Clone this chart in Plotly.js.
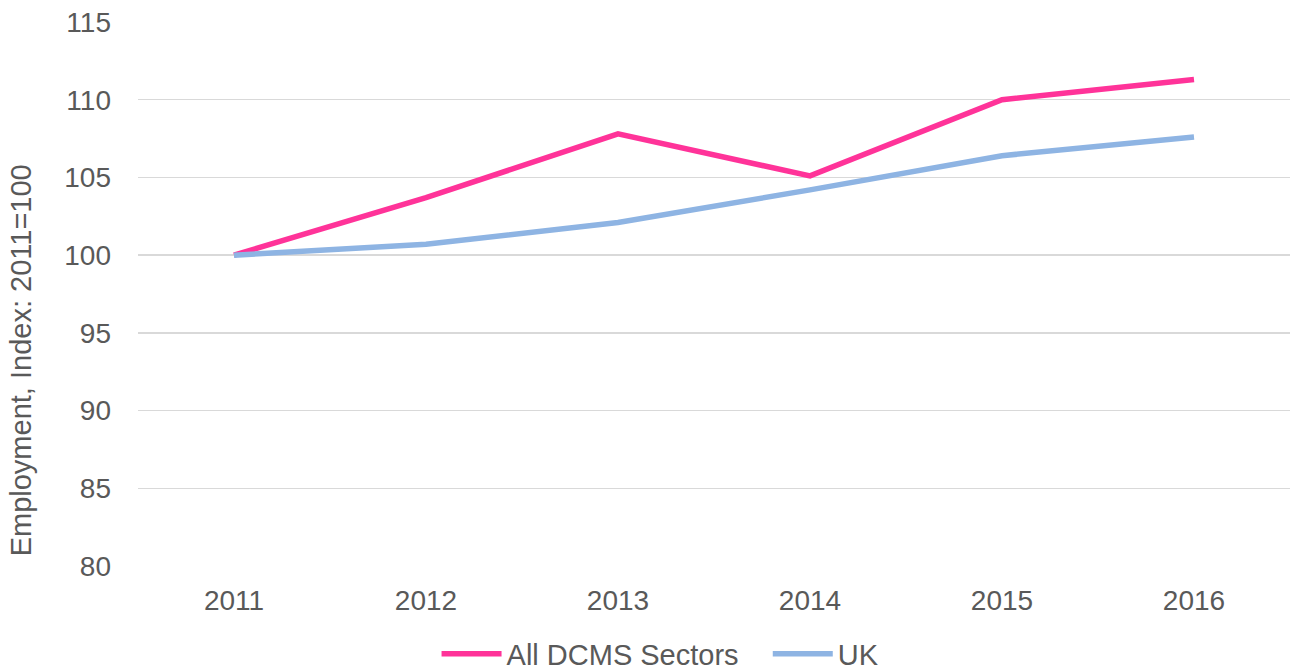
<!DOCTYPE html>
<html><head><meta charset="utf-8">
<script src="https://cdn.plot.ly/plotly-3.0.1.min.js"></script>
<style>html,body{margin:0;padding:0;background:#fff}#chart{width:1290px;height:671px}</style>
</head><body><div id="chart"></div>
<script>
var years = ["2011","2012","2013","2014","2015","2016"];
var dcms = [100, 103.7, 107.8, 105.1, 110.0, 111.3];
var uk = [100, 100.7, 102.1, 104.2, 106.4, 107.6];
var yTicks = [80, 85, 90, 95, 100, 105, 110, 115];
var seriesNames = ["All DCMS Sectors", "UK"];

var tickFont = {family: "Liberation Sans, Arial, sans-serif", size: 28, color: "#595959"};
var bigFont = {family: "Liberation Sans, Arial, sans-serif", size: 29, color: "#595959"};
var traces = [
  {x: years, y: dcms, type: "scatter", mode: "lines", name: seriesNames[0] + "\u00A0\u00A0\u00A0",
   line: {color: "#FF3399", width: 5.5}},
  {x: years, y: uk, type: "scatter", mode: "lines", name: seriesNames[1],
   line: {color: "#8EB4E3", width: 5.5}}
];
var layout = {
  width: 1290, height: 671,
  margin: {l: 138, r: 0, t: 22, b: 105, autoexpand: false},
  paper_bgcolor: "#fff", plot_bgcolor: "#fff",
  font: tickFont,
  showlegend: true,
  legend: {orientation: "h", x: 0.4536, xanchor: "center", y: -0.1145, yanchor: "top",
           font: bigFont, itemwidth: 60, tracegroupgap: 0},
  xaxis: {type: "category", range: [-0.5, 5.5], showgrid: false, zeroline: false,
          showline: false, ticks: "", tickfont: tickFont, ticklabelstandoff: 15, fixedrange: true},
  yaxis: {range: [80, 115], tickvals: yTicks, showgrid: true, gridcolor: "#D9D9D9",
          gridwidth: 1.5, zeroline: false, showline: false, ticks: "", tickfont: tickFont,
          ticklabelstandoff: 26, fixedrange: true},
  annotations: [{text: "Employment, Index: 2011=100", textangle: -90, xref: "paper", yref: "paper",
                 x: -0.1016, y: 0.378, xanchor: "center", yanchor: "middle", showarrow: false,
                 font: bigFont}]
};
Plotly.newPlot("chart", traces, layout, {displayModeBar: false, staticPlot: true});
</script></body></html>
